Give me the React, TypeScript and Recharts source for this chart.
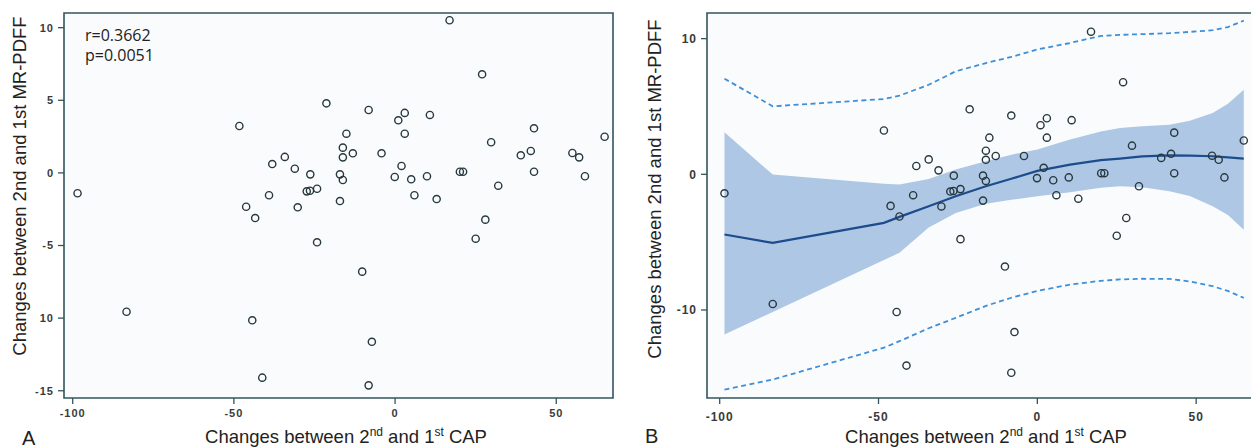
import React from "react";
import {
  ScatterChart,
  ComposedChart,
  Scatter,
  Line,
  Area,
  XAxis,
  YAxis,
  ReferenceArea,
} from "recharts";

// ---- observed data (change in CAP vs change in MR-PDFF) ----
const capChange = [
  -98.5, -83.3, -48.3, -46.2, -44.3, -43.4, -41.2, -39.1, -38.1, -34.2, -31.1, -30.2, -26.3, -27.4,
  -26.4, -24.2, -24.2, -21.3, -17.1, -16.2, -17.1, -16.2, -16.2, -15.1, -13.1, -10.2, -8.2, -7.2,
  -8.2, -4.2, -0.1, 1.0, 2.0, 3.0, 3.0, 5.0, 6.0, 9.9, 10.8, 12.9, 16.9, 20.1, 21.1, 25.0, 27.0,
  28.0, 29.8, 32.0, 39.0, 42.1, 43.1, 43.1, 55.0, 57.1, 58.9, 65.0,
];
const pdffChange = [
  -1.4, -9.56, 3.23, -2.33, -10.15, -3.11, -14.1, -1.54, 0.61, 1.1, 0.29, -2.37, -0.1, -1.27, -1.23,
  -1.09, -4.78, 4.79, -0.1, -0.49, -1.94, 1.74, 1.07, 2.7, 1.35, -6.8, 4.33, -11.63, -14.63, 1.35,
  -0.28, 3.62, 0.48, 4.13, 2.7, -0.44, -1.54, -0.23, 3.99, -1.8, 10.51, 0.08, 0.08, -4.53, 6.79,
  -3.22, 2.11, -0.88, 1.21, 1.51, 3.07, 0.08, 1.37, 1.07, -0.23, 2.49,
];

// ---- smoothed fit (panel B) ----
const smoothX = [-98.5, -83.3, -48.3, -43.4, -34.2, -25.7, -16.2, -8.2, 0, 10.3, 20, 26, 33, 41.6, 48, 55.2, 60, 65];
const fitY = [-4.44, -5.06, -3.58, -3.14, -2.35, -1.62, -0.88, -0.33, 0.25, 0.71, 1.05, 1.16, 1.32, 1.4, 1.38, 1.33, 1.25, 1.16];
const ciUpper = [3.1, -0.02, -0.7, -0.75, -0.35, 0.35, 0.96, 1.45, 1.82, 2.56, 3.15, 3.42, 3.55, 3.66, 3.95, 4.52, 5.2, 6.24];
const ciLower = [-11.81, -10.15, -6.31, -5.79, -3.93, -2.85, -2.17, -1.88, -1.62, -1.33, -1.0, -0.88, -0.95, -1.25, -1.6, -2.36, -3.0, -4.08];
const piUpper = [7.05, 5.01, 5.55, 5.8, 6.6, 7.59, 8.2, 8.65, 9.2, 9.68, 10.2, 10.28, 10.33, 10.4, 10.5, 10.62, 10.85, 11.33];
const piLower = [-15.87, -15.13, -12.78, -12.3, -11.35, -10.58, -9.7, -9.1, -8.6, -8.13, -7.85, -7.75, -7.7, -7.71, -7.9, -8.25, -8.6, -9.11];

// ---- ticks ----
const xTicks = [-100, -50, 0, 50];
const xTickLabels = ["-100", "-50", "0", "50"];
const yTicksA = [-15, -10, -5, 0, 5, 10];
const yTickLabelsA = ["-15", "10", "-5", "0", "5", "10"];
const yTicksB = [-10, 0, 10];
const yTickLabelsB = ["-10", "0", "10"];

const statR = "r=0.3662";
const statP = "p=0.0051";

const points = capChange.map((x, i) => ({ x, y: pdffChange[i] }));
const smooth = smoothX.map((x, i) => ({
  x,
  fit: fitY[i],
  band: [ciLower[i], ciUpper[i]],
  pu: piUpper[i],
  pl: piLower[i],
}));

const DOM_A_X: [number, number] = [-102.7, 67.6];
const DOM_A_Y: [number, number] = [-15.5, 11.01];
const DOM_B_X: [number, number] = [-104.0, 67.9];
const DOM_B_Y: [number, number] = [-16.49, 11.89];

const BORDER = "#33555c";
const PLOT_BG = "#fafbfd";
const TICK_FONT = "'Liberation Sans', Arial, sans-serif";
const TITLE_FONT = "'Liberation Sans', Arial, sans-serif";

const circle = (props: any) => {
  const { cx, cy } = props;
  if (cx == null || cy == null) return <g />;
  return <circle cx={cx} cy={cy} r={3.6} fill="none" stroke="#27393e" strokeWidth={1.4} />;
};

const fmt = (ticks: number[], labels: string[]) => (v: number) => {
  const i = ticks.indexOf(v);
  return i >= 0 ? labels[i] : String(v);
};

const tickStyle = (size: number) => ({
  fontSize: size,
  fontFamily: TICK_FONT,
  fill: "#3a3a3a",
  fontWeight: 700,
  letterSpacing: 1,
});

function Title({ x, y, rotate, children, anchor = "middle" }: any) {
  return (
    <text
      x={x}
      y={y}
      textAnchor={anchor}
      fontFamily={TITLE_FONT}
      fontSize={18.5}
      fill="#222"
      transform={rotate ? `rotate(-90 ${x} ${y})` : undefined}
    >
      {children}
    </text>
  );
}

function CapTitle({ x, y }: { x: number; y: number }) {
  return (
    <text x={x} y={y} textAnchor="middle" fontFamily={TITLE_FONT} fontSize={18.5} fill="#222">
      <tspan>Changes between 2</tspan>
      <tspan dy={-7} fontSize={12}>nd</tspan>
      <tspan dy={7}> and 1</tspan>
      <tspan dy={-7} fontSize={12}>st</tspan>
      <tspan dy={7}> CAP</tspan>
    </text>
  );
}

export default function App() {
  return (
    <div
      style={{
        position: "absolute",
        left: 0,
        top: 0,
        width: 1251,
        height: 448,
        background: "#ffffff",
        overflow: "hidden",
      }}
    >
      <div style={{ position: "absolute", left: 0, top: 0 }}>
        <ScatterChart width={620} height={448} margin={{ top: 13, right: 7, left: 4, bottom: 20 }}>
          <XAxis
            type="number"
            dataKey="x"
            domain={DOM_A_X}
            allowDataOverflow
            ticks={xTicks}
            tickFormatter={fmt(xTicks, xTickLabels)}
            height={30}
            axisLine={false}
            tickLine={{ stroke: BORDER, strokeWidth: 1.3 }}
            tickSize={6}
            tickMargin={5}
            tick={tickStyle(11)}
          />
          <YAxis
            type="number"
            dataKey="y"
            domain={DOM_A_Y}
            allowDataOverflow
            ticks={yTicksA}
            tickFormatter={fmt(yTicksA, yTickLabelsA)}
            width={60}
            axisLine={false}
            tickLine={{ stroke: BORDER, strokeWidth: 1.3 }}
            tickSize={6}
            tickMargin={4}
            tick={tickStyle(11)}
          />
          <ReferenceArea
            x1={DOM_A_X[0]}
            x2={DOM_A_X[1]}
            y1={DOM_A_Y[0]}
            y2={DOM_A_Y[1]}
            fill={PLOT_BG}
            fillOpacity={1}
            stroke={BORDER}
            strokeWidth={1.6}
            ifOverflow="visible"
          />
          <Scatter data={points} dataKey="y" shape={circle} isAnimationActive={false} />
        </ScatterChart>
      </div>

      <div style={{ position: "absolute", left: 620, top: 0 }}>
        <ComposedChart
          width={640}
          height={448}
          data={smooth}
          margin={{ top: 13, right: 7, left: 27, bottom: 20 }}
        >
          <XAxis
            type="number"
            dataKey="x"
            domain={DOM_B_X}
            allowDataOverflow
            ticks={xTicks}
            tickFormatter={fmt(xTicks, xTickLabels)}
            height={30}
            axisLine={false}
            tickLine={{ stroke: BORDER, strokeWidth: 1.3 }}
            tickSize={6}
            tickMargin={8}
            tick={tickStyle(12)}
          />
          <YAxis
            type="number"
            domain={DOM_B_Y}
            allowDataOverflow
            ticks={yTicksB}
            tickFormatter={fmt(yTicksB, yTickLabelsB)}
            width={60}
            axisLine={false}
            tickLine={{ stroke: BORDER, strokeWidth: 1.3 }}
            tickSize={6}
            tickMargin={4}
            tick={tickStyle(12)}
          />
          <ReferenceArea
            x1={DOM_B_X[0]}
            x2={DOM_B_X[1]}
            y1={DOM_B_Y[0]}
            y2={DOM_B_Y[1]}
            fill={PLOT_BG}
            fillOpacity={1}
            stroke={BORDER}
            strokeWidth={1.6}
            ifOverflow="visible"
          />
          <Area
            type="linear"
            dataKey="band"
            stroke="none"
            fill="#aec7e4"
            fillOpacity={1}
            isAnimationActive={false}
            activeDot={false}
          />
          <Line
            type="linear"
            dataKey="pu"
            stroke="#3f8fd8"
            strokeWidth={1.8}
            strokeDasharray="5 3.5"
            dot={false}
            activeDot={false}
            isAnimationActive={false}
          />
          <Line
            type="linear"
            dataKey="pl"
            stroke="#3f8fd8"
            strokeWidth={1.8}
            strokeDasharray="5 3.5"
            dot={false}
            activeDot={false}
            isAnimationActive={false}
          />
          <Line
            type="linear"
            dataKey="fit"
            stroke="#1c4c8c"
            strokeWidth={2.2}
            dot={false}
            activeDot={false}
            isAnimationActive={false}
          />
          <Scatter data={points} dataKey="y" shape={circle} isAnimationActive={false} />
        </ComposedChart>
      </div>

      <svg
        width={1251}
        height={448}
        style={{ position: "absolute", left: 0, top: 0, pointerEvents: "none" }}
      >
        <text x={85} y={41} fontFamily="'Open Sans', sans-serif" fontSize={16} fill="#222">
          {statR}
        </text>
        <text x={85} y={61} fontFamily="'Open Sans', sans-serif" fontSize={16} fill="#222">
          {statP}
        </text>
        <Title x={26} y={186} rotate>
          Changes between 2nd and 1st MR-PDFF
        </Title>
        <Title x={661} y={189} rotate>
          Changes between 2nd and 1st MR-PDFF
        </Title>
        <CapTitle x={346} y={443} />
        <CapTitle x={986} y={443} />
        <text x={22} y={445} fontFamily={TITLE_FONT} fontSize={20} fill="#222">
          A
        </text>
        <text x={645} y={443} fontFamily={TITLE_FONT} fontSize={20} fill="#222">
          B
        </text>
      </svg>
    </div>
  );
}
